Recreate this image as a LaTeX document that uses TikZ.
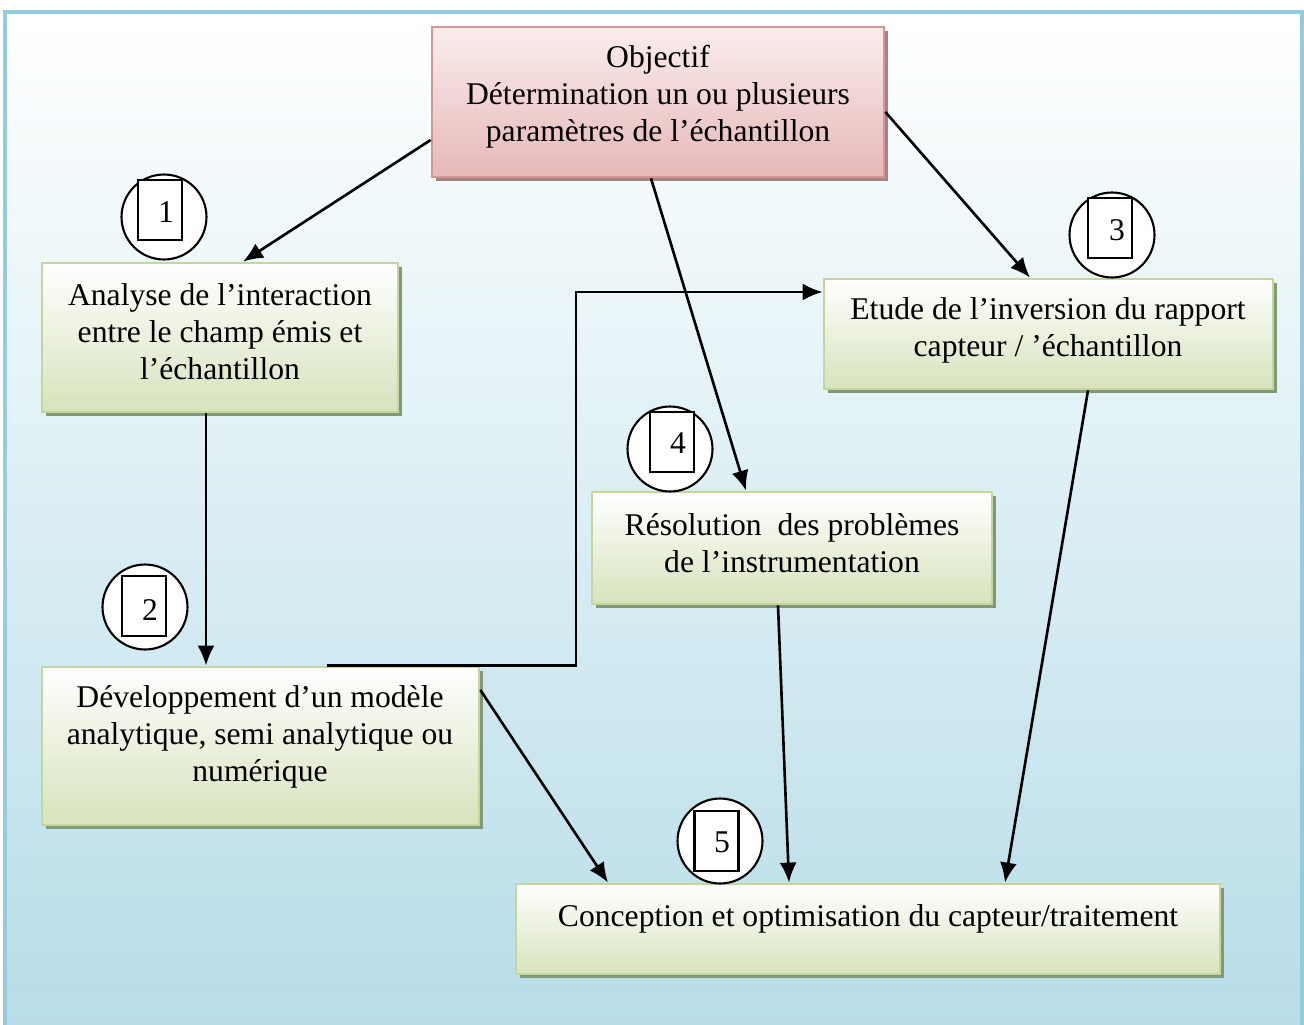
\documentclass[tikz,border=0pt]{standalone}
\usepackage{fontspec}
\setmainfont{Liberation Serif}
\usetikzlibrary{shadows,arrows.meta}
\definecolor{frameblue}{HTML}{93CDDD}
\definecolor{skyblue}{HTML}{B7DDE8}
\definecolor{leafgreen}{HTML}{D6E3BC}
\definecolor{leafedge}{HTML}{C3D69B}
\definecolor{leafshadow}{HTML}{809A78}
\definecolor{rosefill}{HTML}{E5B8B7}
\definecolor{rosetop}{HTML}{FAEDED}
\definecolor{roseedge}{HTML}{D99594}
\definecolor{roseshadow}{HTML}{A08585}

\begin{document}
\begin{tikzpicture}[x=0.02cm,y=-0.02cm,
  every node/.style={font=\fontsize{18}{21}\selectfont},
  greenbox/.style={rectangle, draw=leafedge, line width=1.6pt,
    top color=white, bottom color=leafgreen,
    general shadow={fill=leafshadow, shadow xshift=0.08cm, shadow yshift=-0.08cm}},
  rosebox/.style={rectangle, draw=roseedge, line width=1.6pt,
    top color=rosetop, bottom color=rosefill,
    general shadow={fill=roseshadow, shadow xshift=0.08cm, shadow yshift=-0.08cm}},
  boxtext/.style={align=center, inner sep=0pt},
  arr/.style={-{Latex[length=0.4cm,width=0.34cm]}, line width=1.5pt},
  ring/.style={circle, draw, fill=white, line width=1.2pt, minimum size=1.7cm, inner sep=0pt},
  tag/.style={rectangle, draw, fill=white, line width=1.2pt,
    minimum width=0.88cm, minimum height=1.2cm, inner sep=0pt},
]
\useasboundingbox (0,0) rectangle (1304,1024);

% page background with its frame
\path[top color=white, bottom color=skyblue] (5,12) rectangle (1302,1030);
\draw[frameblue, line width=0.08cm] (5,12) rectangle (1302,1030);

% boxes
\node[rosebox, minimum width=9.04cm, minimum height=3cm] (goal) at (658,102) {};
\node[boxtext] (goaltext) at (658,97)
  {Objectif\\Détermination un ou plusieurs\\paramètres de l’échantillon};

\node[greenbox, minimum width=7.12cm, minimum height=2.98cm] (interact) at (220,337.5) {};
\node[boxtext] (interacttext) at (220,332)
  {Analyse de l’interaction\\entre le champ émis et\\l’échantillon};

\node[greenbox, minimum width=8.98cm, minimum height=2.2cm] (inversion) at (1048.5,334) {};
\node[boxtext] (inversiontext) at (1048,330)
  {Etude de l’inversion du rapport\\capteur / ’échantillon};

\node[greenbox, minimum width=8cm, minimum height=2.24cm] (instrum) at (792,548) {};
\node[boxtext] (instrumtext) at (792,543)
  {Résolution\ \ des problèmes\\de l’instrumentation};

\node[greenbox, minimum width=8.74cm, minimum height=3.16cm] (model) at (260.5,746) {};
\node[boxtext] (modeltext) at (260,737)
  {Développement d’un modèle\\analytique, semi analytique ou\\numérique};

\node[greenbox, minimum width=14.08cm, minimum height=1.8cm] (design) at (868,929) {};
\node[boxtext] (designtext) at (868,919)
  {Conception et optimisation du capteur/traitement};

% connectors
\draw[arr] (goal.west |- 0,140) -- (interact.north -| 243,0);
\draw[arr] (goal.south -| 651,0) -- (instrum.north -| 746,0);
\draw[arr] (goal.east |- 0,112) -- (inversion.north -| 1030,0);
\draw[arr] (interact.south -| 206,0) -- (model.north -| 206,0);
\coordinate (bend) at (576,292);
\draw[arr] (model.north -| 327,0) -| (bend) -- (inversion.west |- bend);
\draw[arr] (model.east |- 0,690) -- (design.north -| 608,0);
\draw[arr] (instrum.south -| 778,0) -- (design.north -| 789,0);
\draw[arr] (inversion.south -| 1088,0) -- (design.north -| 1005,0);

% step numbers
\node[ring] (c1) at (164,217) {};
\node[tag] (t1) at (160,210) {};
\node (n1) at (166,212) {1};

\node[ring] (c2) at (145,607) {};
\node[tag] (t2) at (144,606) {};
\node (n2) at (150,610) {2};

\node[ring] (c3) at (1112,235) {};
\node[tag] (t3) at (1110,228) {};
\node (n3) at (1117,230) {3};

\node[ring] (c4) at (670,449) {};
\node[tag] (t4) at (672,442) {};
\node (n4) at (678,443) {4};

\node[ring] (c5) at (720,841) {};
\node[tag] (t5) at (716.5,841) {};
\node (n5) at (722,842) {5};
\end{tikzpicture}
\end{document}
